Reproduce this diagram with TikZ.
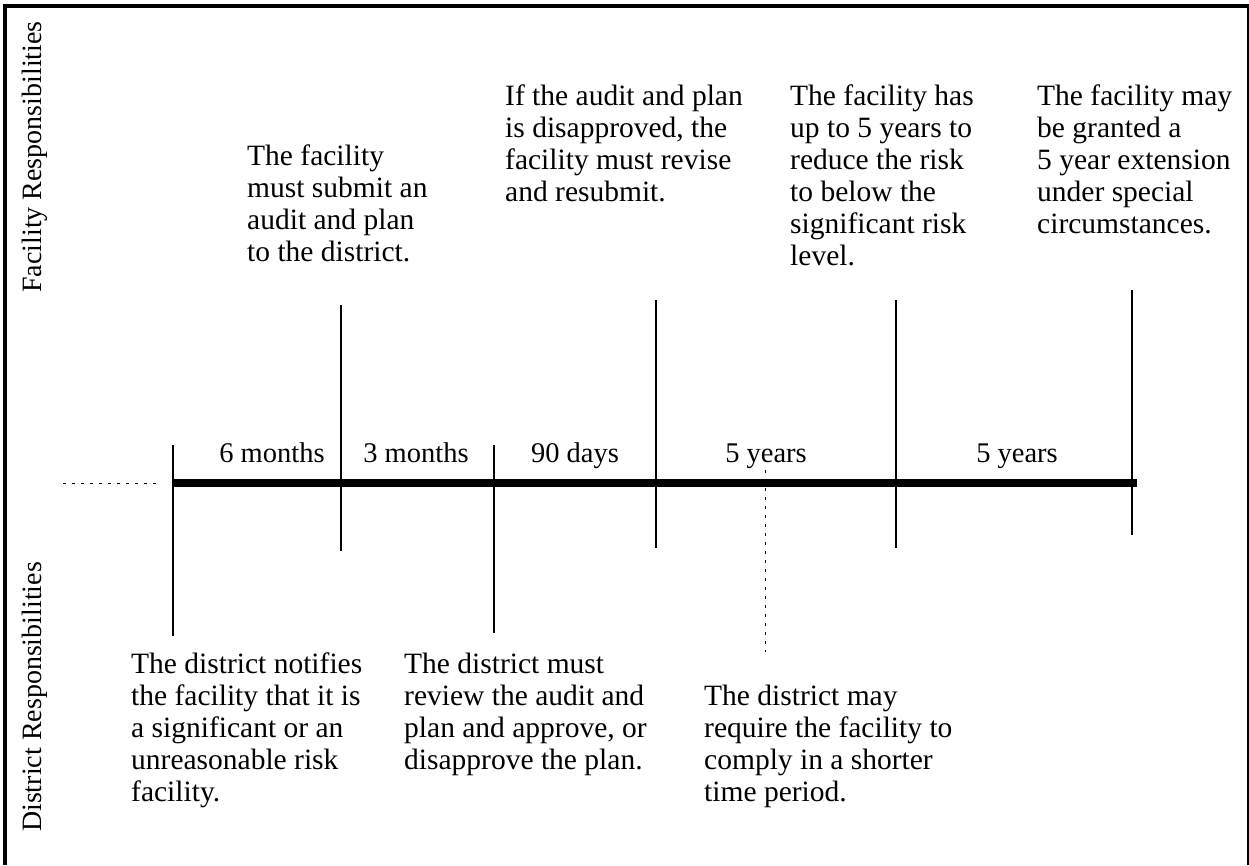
\documentclass[tikz,border=0pt]{standalone}
\usepackage{fontspec}
\setmainfont{Liberation Serif}
\begin{document}
\begin{tikzpicture}[x=1pt,y=-1pt,
  txt/.style={anchor=north west,inner sep=0pt,align=left,font=\fontsize{29.5}{32}\selectfont},
  dur/.style={anchor=base,inner sep=0pt,font=\fontsize{28.5}{32}\selectfont},
  side/.style={rotate=90,inner sep=0pt,font=\fontsize{28}{32}\selectfont},
  tick/.style={line width=2pt},
  dots/.style={line width=1pt,dash pattern=on 2.5pt off 6.5pt},
  frame/.style={line width=4pt}]
\useasboundingbox (0,0) rectangle (1249,865);
% frame
\coordinate (fbl) at (5,865);
\coordinate (ftl) at (5,6);
\coordinate (ftr) at (1247.5,6);
\coordinate (fbr) at (1247.5,865);
\draw[frame] (fbl) -- (ftl) -- ([xshift=1pt]ftr);
\draw[line width=2pt] (ftr) -- (fbr);
% side labels
\node[side] (fac) at (35,157) {Facility Responsibilities};
\node[side] (dis) at (35,697) {District Responsibilities};
% timeline
\coordinate (tlA) at (172,483);
\coordinate (tlB) at (1137,483);
\draw[line width=8pt] (tlA) -- (tlB);
\coordinate (dlA) at (63,483);
\coordinate (dlB) at (160,483);
\draw[dots] (dlA) -- (dlB);
% ticks
\coordinate (t0a) at (173,445); \coordinate (t0b) at (173,636);
\coordinate (t1a) at (341,305); \coordinate (t1b) at (341,551);
\coordinate (t2a) at (494,445); \coordinate (t2b) at (494,633);
\coordinate (t3a) at (656,300); \coordinate (t3b) at (656,548);
\coordinate (t4a) at (896,300); \coordinate (t4b) at (896,548);
\coordinate (t5a) at (1132,290); \coordinate (t5b) at (1132,535);
\draw[tick] (t0a) -- (t0b);
\draw[tick] (t1a) -- (t1b);
\draw[tick] (t2a) -- (t2b);
\draw[tick] (t3a) -- (t3b);
\draw[tick] (t4a) -- (t4b);
\draw[tick] (t5a) -- (t5b);
\coordinate (dvA) at (765,470);
\coordinate (dvB) at (765,652);
\draw[dots] (dvA) -- (dvB);
% durations
\node[dur] (d1) at (272,462) {6 months};
\node[dur] (d2) at (416,462) {3 months};
\node[dur] (d3) at (575,462) {90 days};
\node[dur] (d4) at (766,462) {5 years};
\node[dur] (d5) at (1017,462) {5 years};
% facility texts
\node[txt] (f1) at (247,145) {The facility\\must submit an\\audit and plan\\to the district.};
\node[txt] (f2) at (505,85) {If the audit and plan\\is disapproved, the\\facility must revise\\and resubmit.};
\node[txt] (f3) at (790,85) {The facility has\\up to 5 years to\\reduce the risk\\to below the\\significant risk\\level.};
\node[txt] (f4) at (1037,85) {The facility may\\be granted a\\5 year extension\\under special\\circumstances.};
% district texts
\node[txt] (s1) at (131,653) {The district notifies\\the facility that it is\\a significant or an\\unreasonable risk\\facility.};
\node[txt] (s2) at (404,653) {The district must\\review the audit and\\plan and approve, or\\disapprove the plan.};
\node[txt] (s3) at (704,685) {The district may\\require the facility to\\comply in a shorter\\time period.};
\end{tikzpicture}
\end{document}
